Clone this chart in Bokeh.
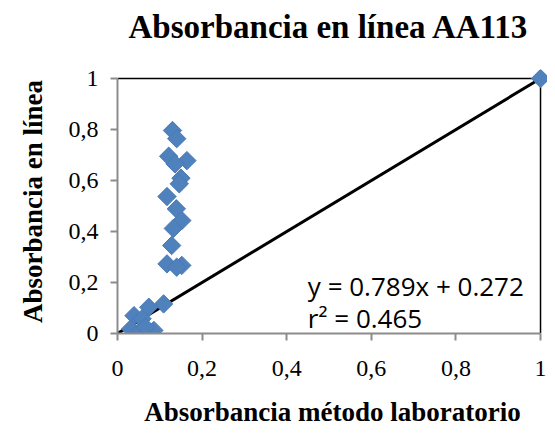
from bokeh.plotting import figure
from bokeh.models import Range1d, FixedTicker, Label, ColumnDataSource, CustomJSTickFormatter, Title
from bokeh.embed import file_html
from bokeh.resources import INLINE

# ---- data ----
title_text = "Absorbancia en línea AA113"
x_label = "Absorbancia método laboratorio"
y_label = "Absorbancia en línea"

lab_x = [0.130, 0.140, 0.121, 0.164, 0.136, 0.150, 0.146, 0.117, 0.139, 0.152,
         0.132, 0.128, 0.117, 0.152, 0.140,
         0.109, 0.074, 0.039, 0.058, 0.031, 0.047, 0.086, 0.066, 1.0]
inline_y = [0.796, 0.764, 0.695, 0.678, 0.665, 0.609, 0.587, 0.537, 0.489, 0.443,
            0.412, 0.345, 0.273, 0.267, 0.260,
            0.116, 0.103, 0.070, 0.058, 0.018, 0.000, 0.012, 0.025, 1.0]

ref_x = [0, 1]
ref_y = [0, 1]

tick_values = [0, 0.2, 0.4, 0.6, 0.8, 1]
tick_labels = ["0", "0,2", "0,4", "0,6", "0,8", "1"]

eq_line1 = "y = 0.789x + 0.272"
eq_line2 = "r\u00b2 = 0.465"

# ---- figure ----
lo, hi = tick_values[0], tick_values[-1]
p = figure(width=547, height=430, output_backend="svg", toolbar_location=None,
           x_range=Range1d(lo, 1.0165), y_range=Range1d(lo, 1.0353),
           min_border_left=117, min_border_right=0, min_border_top=69,
           min_border_bottom=97)
p.outline_line_color = None
p.xgrid.visible = False
p.ygrid.visible = False
p.background_fill_color = "white"
p.border_fill_color = "white"

p.title.text = title_text
p.title.align = "left"
p.title.offset = 11
p.title.text_font = "Liberation Serif"
p.title.text_font_size = "33px"
p.title.text_font_style = "bold"
p.title.text_color = "black"
p.title.standoff = 0
# small spacer between the title and the plot area
p.add_layout(Title(text=" ", text_font_size="1px", standoff=22), "above")

fmt = CustomJSTickFormatter(args=dict(vals=tick_values, labels=tick_labels), code="""
    for (let i = 0; i < vals.length; i++) {
        if (Math.abs(vals[i] - tick) < 1e-9) { return labels[i]; }
    }
    return "";
""")

for ax in (p.xaxis[0], p.yaxis[0]):
    ax.bounds = (lo, hi)
    ax.ticker = FixedTicker(ticks=tick_values)
    ax.formatter = fmt
    ax.axis_line_color = "#8c8c8c"
    ax.axis_line_width = 2
    ax.major_tick_line_color = "#8c8c8c"
    ax.major_tick_line_width = 2
    ax.major_tick_out = 7
    ax.major_tick_in = 0
    ax.minor_tick_line_color = None
    ax.major_label_text_color = "black"
    ax.major_label_text_font = "Liberation Serif"
    ax.major_label_text_font_size = "24px"
    ax.major_label_text_font_style = "normal"
    ax.axis_label_text_font = "Liberation Serif"
    ax.axis_label_text_font_size = "27px"
    ax.axis_label_text_font_style = "bold"
    ax.axis_label_text_color = "black"

p.xaxis.axis_label = x_label
p.yaxis.axis_label = y_label
p.xaxis.major_label_standoff = 20
p.yaxis.major_label_standoff = 12
p.xaxis.axis_label_standoff = 18
p.yaxis.axis_label_standoff = 18

# plot-area border on the top and right
p.line([lo, hi, hi], [hi, hi, lo], line_color="black", line_width=1.5)

p.line(ref_x, ref_y, line_color="black", line_width=3)

src = ColumnDataSource(data=dict(x=lab_x, y=inline_y))
p.scatter("x", "y", source=src, marker="square", size=13, angle=0.785398,
          fill_color="#4f81bd", line_color="#4a7ab5", line_width=1)

p.add_layout(Label(x=0.45, y=0.188, text=eq_line1, text_font="Open Sans",
                   text_font_size="26px", text_color="black",
                   text_baseline="alphabetic"))
p.add_layout(Label(x=0.45, y=0.059, text=eq_line2, text_font="Open Sans",
                   text_font_size="26px", text_color="black",
                   text_baseline="alphabetic"))

open("out.html", "w").write(file_html(p, INLINE))
